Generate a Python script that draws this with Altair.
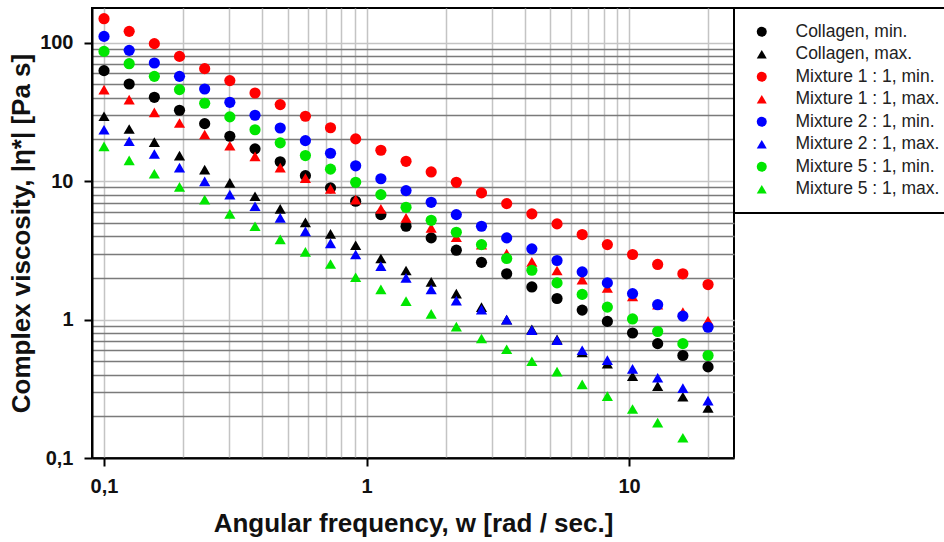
import altair as alt
import pandas as pd

# Angular frequency [rad/s]
freq = [0.1, 0.1247, 0.1555, 0.1939, 0.2418, 0.3015, 0.376, 0.469, 0.585, 0.729,
        0.909, 1.134, 1.414, 1.763, 2.198, 2.741, 3.418, 4.263, 5.316, 6.629,
        8.266, 10.31, 12.85, 16.03, 19.99]

collagen_min = [62.8, 50.3, 40.3, 32.5, 26.0, 21.1, 17.1, 13.8, 10.95, 8.93,
                7.15, 5.73, 4.72, 3.89, 3.17, 2.59, 2.14, 1.72, 1.42, 1.17,
                0.97, 0.80, 0.67, 0.55, 0.455]
collagen_max = [29.4, 23.8, 19.1, 15.3, 12.1, 9.70, 7.77, 6.30, 5.04, 4.16,
                3.44, 2.76, 2.26, 1.87, 1.54, 1.23, 1.00, 0.85, 0.72, 0.58,
                0.48, 0.39, 0.33, 0.277, 0.23]
mix11_min = [149, 120.7, 98.4, 79.6, 64.9, 53.2, 43.3, 35.7, 29.4, 24.3,
             20.2, 16.7, 13.9, 11.65, 9.80, 8.22, 6.88, 5.80, 4.91, 4.11,
             3.48, 2.95, 2.50, 2.14, 1.79]
mix11_max = [45.8, 38.8, 31.4, 26.3, 21.7, 18.0, 15.1, 12.5, 10.5, 8.79,
             7.35, 6.30, 5.42, 4.59, 3.93, 3.48, 3.00, 2.61, 2.26, 1.94,
             1.69, 1.47, 1.28, 1.13, 0.98]
mix21_min = [111, 88.0, 71.3, 57.1, 46.3, 37.1, 29.9, 24.2, 19.6, 15.9,
             12.9, 10.4, 8.54, 7.03, 5.73, 4.72, 3.89, 3.24, 2.67, 2.21,
             1.84, 1.54, 1.28, 1.06, 0.88]
mix21_max = [23.5, 19.4, 15.7, 12.5, 9.97, 7.99, 6.58, 5.42, 4.34, 3.55,
             2.95, 2.43, 2.00, 1.65, 1.37, 1.18, 1.00, 0.84, 0.71, 0.60,
             0.51, 0.44, 0.38, 0.32, 0.26]
mix51_min = [86.5, 70.5, 57.1, 45.8, 36.5, 29.1, 23.5, 18.9, 15.3, 12.2,
             9.80, 7.99, 6.47, 5.21, 4.27, 3.48, 2.76, 2.27, 1.84, 1.52,
             1.23, 1.01, 0.82, 0.67, 0.55]
mix51_max = [17.8, 14.1, 11.3, 9.08, 7.35, 5.80, 4.72, 3.80, 3.08, 2.52,
             2.02, 1.65, 1.36, 1.10, 0.89, 0.73, 0.61, 0.50, 0.42, 0.34,
             0.28, 0.226, 0.18, 0.14]

names = ["Collagen, min.", "Collagen, max.", "Mixture 1 : 1, min.", "Mixture 1 : 1, max.",
         "Mixture 2 : 1, min.", "Mixture 2 : 1, max.", "Mixture 5 : 1, min.", "Mixture 5 : 1, max."]
values = [collagen_min, collagen_max, mix11_min, mix11_max,
          mix21_min, mix21_max, mix51_min, mix51_max]
colors = ["#000000", "#000000", "#ff0000", "#ff0000", "#0000ff", "#0000ff", "#00e600", "#00e600"]
shapes = ["circle", "triangle-up"] * 4

x_ticks = [0.1, 0.2, 0.3, 0.4, 0.5, 0.6, 0.7, 0.8, 0.9, 1, 2, 3, 4, 5, 6, 7, 8, 9, 10, 20]
y_ticks = [0.1, 0.2, 0.3, 0.4, 0.5, 0.6, 0.7, 0.8, 0.9, 1, 2, 3, 4, 5, 6, 7, 8, 9,
           10, 20, 30, 40, 50, 60, 70, 80, 90, 100]

rows = []
for order, (name, vals) in enumerate(zip(names, values)):
    for f, v in zip(freq, vals):
        rows.append({"w": f, "eta": v, "series": name, "order": order})
df = pd.DataFrame(rows)

DEC = "abs(log(datum.value)/LN10 - round(log(datum.value)/LN10)) < 0.001"
label_expr = f"({DEC}) ? replace(format(datum.value, ''), '.', ',') : ''"

x_axis = alt.Axis(
    values=x_ticks, labelExpr=label_expr, title="Angular frequency, w [rad / sec.]",
    grid=True, gridColor="#c4c4c4", gridWidth=1.5,
    tickOpacity={"condition": {"test": DEC, "value": 1}, "value": 0},
    tickColor="black", tickSize=8, tickWidth=2,
    domainColor="black", domainWidth=2,
    labelFont="Liberation Sans", labelFontSize=20, labelFontWeight="bold", labelColor="#111",
    labelPadding=10, labelFlush=False, labelOverlap=False,
    titleFont="Liberation Sans", titleFontSize=26, titleFontWeight="bold", titleColor="#111",
    titlePadding=14,
)
y_axis = alt.Axis(
    values=y_ticks, labelExpr=label_expr, title="Complex viscosity, |η*| [Pa s]",
    grid=True,
    gridColor={"condition": {"test": DEC, "value": "#c4c4c4"}, "value": "#7a7a7a"},
    gridWidth=1.5,
    tickOpacity={"condition": {"test": DEC, "value": 1}, "value": 0},
    tickColor="black", tickSize=8, tickWidth=2,
    domainColor="black", domainWidth=2,
    labelFont="Liberation Sans", labelFontSize=20, labelFontWeight="bold", labelColor="#111",
    labelPadding=11, labelFlush=False, labelOverlap=False,
    titleFont="Liberation Sans", titleFontSize=26, titleFontWeight="bold", titleColor="#111",
    titlePadding=5,
)

legend = alt.Legend(
    title=None, orient="none", legendX=642, legendY=0,
    fillColor="white", strokeColor="black",
    padding=15, rowPadding=3.5, symbolSize=100, symbolOffset=4,
    labelFont="Liberation Sans", labelFontSize=17.5, labelColor="#222",
    labelOffset=25, labelLimit=400,
)

chart = alt.Chart(df).mark_point(filled=True, opacity=1, size=125, strokeWidth=0).encode(
    x=alt.X("w:Q", scale=alt.Scale(type="log", domain=[0.09, 25.1], nice=False), axis=x_axis),
    y=alt.Y("eta:Q", scale=alt.Scale(type="log", domain=[0.1, 178], nice=False), axis=y_axis),
    color=alt.Color("series:N", scale=alt.Scale(domain=names, range=colors), legend=legend),
    shape=alt.Shape("series:N", scale=alt.Scale(domain=names, range=shapes), legend=legend),
    order=alt.Order("order:Q"),
).properties(
    width=642, height=450,
    autosize=alt.AutoSizeParams(type="none"),
    padding={"left": 92, "top": 8, "right": 210, "bottom": 84},
    background="white",
).configure_view(stroke="black", strokeWidth=2).configure_legend(strokeWidth=2)

chart.save("out.html", embed_options={"renderer": "svg", "actions": False})
